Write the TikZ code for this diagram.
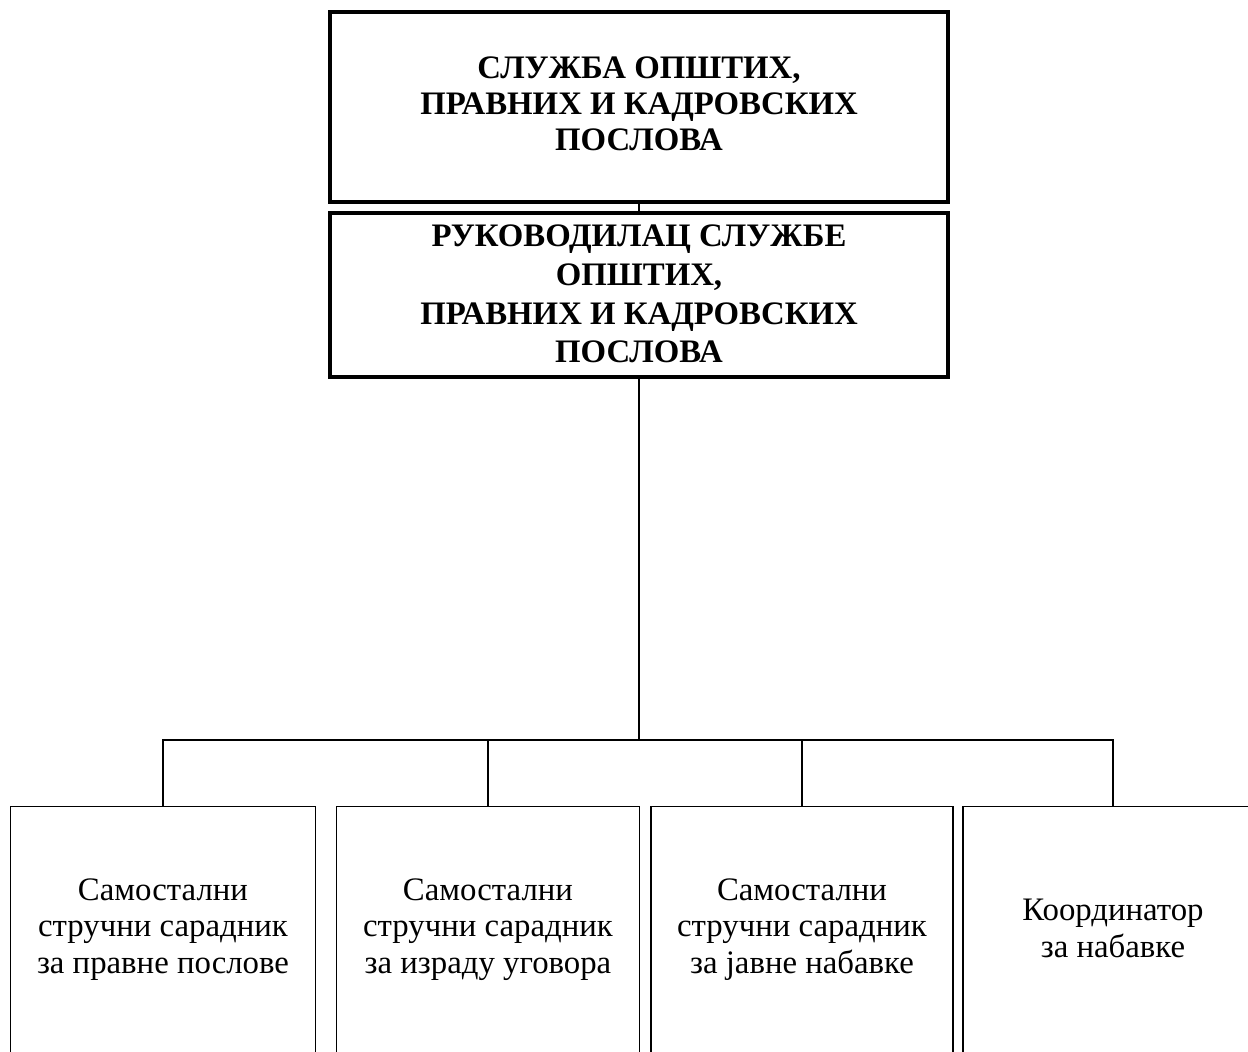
\documentclass[tikz,border=0pt]{standalone}
\usepackage{fontspec}
\setmainfont{Liberation Serif}
\begin{document}
\begin{tikzpicture}[x=0.75pt,y=-0.75pt,
  headbox/.style={draw, line width=2.5pt, rectangle, minimum width=618*0.75pt, inner sep=0pt},
  headtext/.style={anchor=north, align=center, inner sep=0pt, font=\fontsize{24.6pt}{27pt}\selectfont\bfseries},
  staffbox/.style={draw, line width=1.1pt, rectangle, anchor=north, minimum height=250*0.75pt, inner sep=0pt},
  stafftext/.style={anchor=north, align=center, inner sep=0pt, font=\fontsize{24.6pt}{27.4pt}\selectfont},
  conn/.style={line width=1.1pt}]
\useasboundingbox (0,0) rectangle (1248,1051);
\clip (0,0) rectangle (1248,1051);
\node[headbox, minimum height=190*0.75pt] (s) at (639,107) {};
\node[headtext] (st) at (639,57) {СЛУЖБА ОПШТИХ,\\ПРАВНИХ И КАДРОВСКИХ\\ПОСЛОВА};
\node[headbox, minimum height=164*0.75pt] (r) at (639,295) {};
\node[headtext, font=\fontsize{24.6pt}{28.9pt}\selectfont\bfseries] (rt) at (639,225) {РУКОВОДИЛАЦ СЛУЖБЕ\\ОПШТИХ,\\ПРАВНИХ И КАДРОВСКИХ\\ПОСЛОВА};
\node[staffbox, minimum width=305*0.75pt] (a) at (163,806) {};
\node[staffbox, minimum width=303*0.75pt] (b) at (488,806) {};
\node[staffbox, minimum width=302*0.75pt] (c) at (802,806) {};
\node[staffbox, minimum width=300*0.75pt] (d) at (1113,806) {};
\node[stafftext] (at) at (163,878) {Самостални\\стручни сарадник\\за правне послове};
\node[stafftext] (bt) at (488,878) {Самостални\\стручни сарадник\\за израду уговора};
\node[stafftext] (ct) at (802,878) {Самостални\\стручни сарадник\\за јавне набавке};
\node[stafftext] (dt) at (1113,899) {Координатор\\за набавке};
\coordinate (j) at (639,740);
\draw[conn] (s.south) -- (r.north);
\draw[conn] (r.south) -- (j);
\draw[conn] (a.north) -- (a.north |- j) -- (d.north |- j) -- (d.north);
\draw[conn] (b.north) -- (b.north |- j);
\draw[conn] (c.north) -- (c.north |- j);
\end{tikzpicture}
\end{document}
